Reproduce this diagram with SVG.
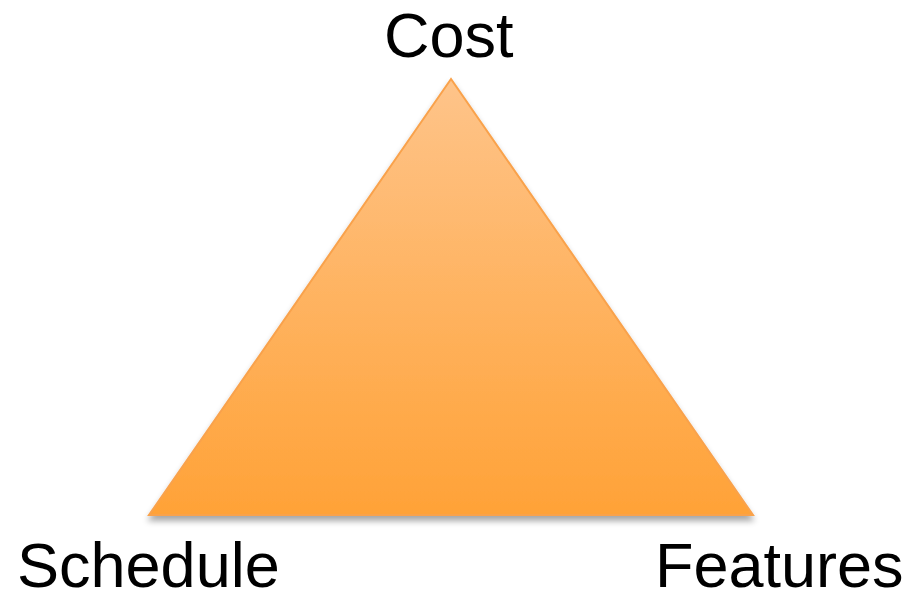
<svg xmlns="http://www.w3.org/2000/svg" width="909" height="592" viewBox="0 0 909 592">
<style>
.lbl{font-family:"Liberation Sans",Arial,sans-serif;font-size:63px;fill:#000}
</style>
<defs>
<linearGradient id="g" x1="0" y1="0" x2="0" y2="1">
<stop offset="0" stop-color="#FEC48A"/>
<stop offset="1" stop-color="#FFA237"/>
</linearGradient>
<filter id="sh" x="-10%" y="-10%" width="120%" height="130%">
<feGaussianBlur in="SourceAlpha" stdDeviation="3"/>
<feOffset dx="0" dy="5"/>
<feComponentTransfer><feFuncA type="linear" slope="0.35"/></feComponentTransfer>
<feMerge><feMergeNode/><feMergeNode in="SourceGraphic"/></feMerge>
</filter>
</defs>
<rect width="909" height="592" fill="#fff"/>
<g id="triangle">
<polygon points="451,79 149,515 753,515" fill="url(#g)" stroke="#F9A24C" stroke-width="2" filter="url(#sh)"/>
</g>
<g id="cost"><text class="lbl" x="384" y="57">Cost</text></g>
<g id="schedule"><text class="lbl" x="17" y="587">Schedule</text></g>
<g id="features"><text class="lbl" x="655" y="587">Features</text></g>
<g id="connectors"></g>
</svg>
